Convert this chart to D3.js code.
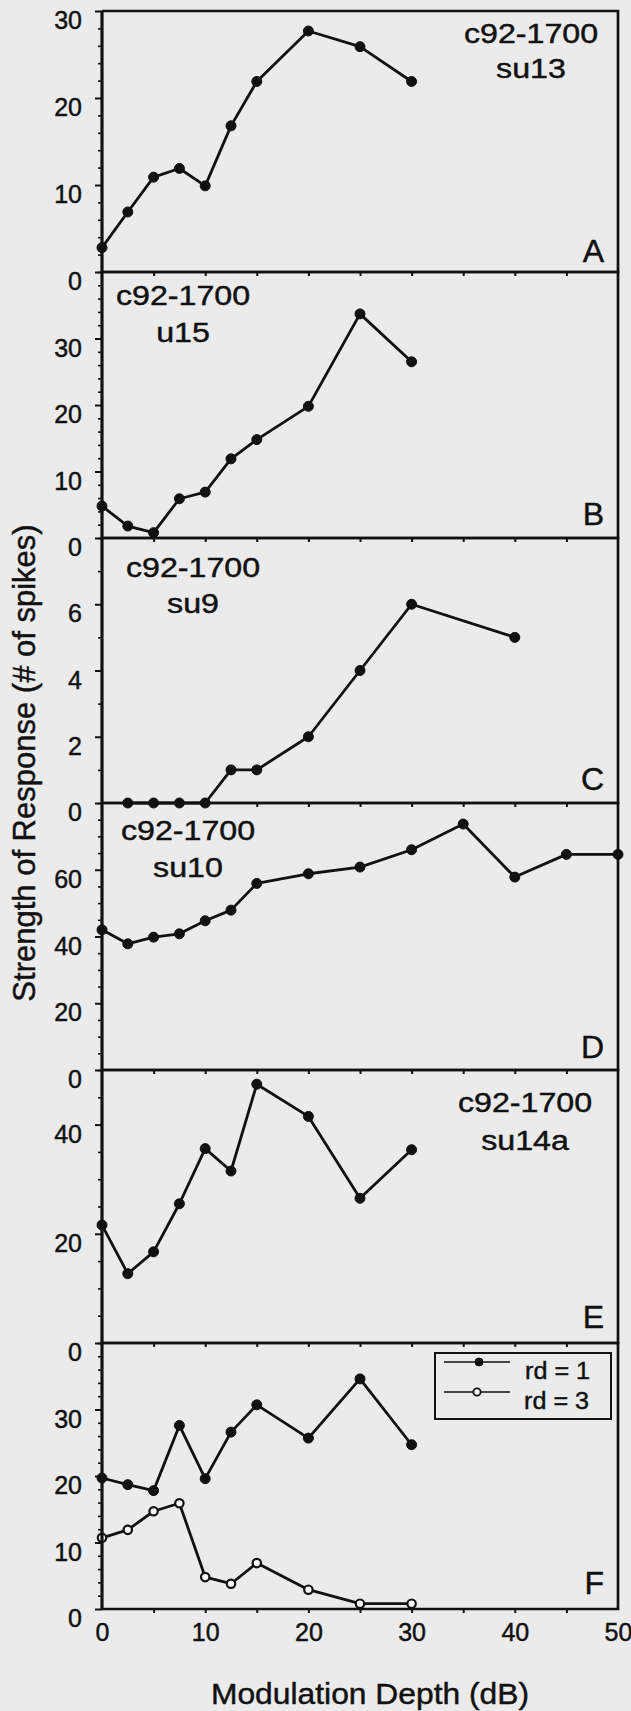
<!DOCTYPE html>
<html><head><meta charset="utf-8">
<script src="https://cdn.jsdelivr.net/npm/d3@7/dist/d3.min.js"></script>
<style>html,body{margin:0;padding:0;background:#ebebeb;} svg{display:block;} text{stroke:#111;stroke-width:0.45px;}</style>
</head><body>
<svg id="chart" width="631" height="1711"></svg>
<script>
// ---------- data ----------
const depths  = [0, 2.5, 5, 7.5, 10, 12.5, 15, 20, 25, 30];
const depthsC = [2.5, 5, 7.5, 10, 12.5, 15, 20, 25, 30, 40];
const depthsD = [0, 2.5, 5, 7.5, 10, 12.5, 15, 20, 25, 30, 35, 40, 45, 50];

const spikesA = [2.8, 6.9, 10.9, 11.9, 9.9, 16.8, 21.9, 27.7, 25.9, 21.9];
const spikesB = [4.8, 1.8, 0.8, 5.9, 6.9, 11.9, 14.8, 19.8, 33.7, 26.5];
const spikesC = [0, 0, 0, 0, 1, 1, 2, 4, 6, 5];
const spikesD = [42, 37.8, 39.8, 40.8, 44.7, 47.9, 55.9, 58.8, 60.8, 66, 73.7, 57.8, 64.6, 64.6];
const spikesE = [21.6, 12.7, 16.7, 25.5, 35.6, 31.5, 47.4, 41.5, 26.5, 35.4];
const spikesFrd1 = [19.7, 18.7, 17.8, 27.6, 19.6, 26.6, 30.7, 25.7, 34.6, 24.7];
const spikesFrd3 = [10.7, 11.9, 14.7, 15.9, 4.8, 3.8, 6.9, 2.9, 0.8, 0.8];

const panelLetters = ["A", "B", "C", "D", "E", "F"];
const cellName = "c92-1700";
const unitNames = ["su13", "u15", "su9", "su10", "su14a", null];
const yMaxima = [30, 40, 8, 80, 50, 40];
const yTicksA = [0, 10, 20, 30];
const yTicksB = [0, 10, 20, 30];
const yTicksC = [0, 2, 4, 6];
const yTicksD = [0, 20, 40, 60];
const yTicksE = [0, 20, 40];
const yTicksF = [0, 10, 20, 30];
const minorSteps = [2, 2, 1, 5, 5, 2];
const xTicks = [0, 10, 20, 30, 40, 50];
const legendLabels = ["rd = 1", "rd = 3"];
const xTitle = "Modulation Depth (dB)";
const yTitle = "Strength of Response (# of spikes)";

// ---------- layout ----------
const W = 631, H = 1711;
const left = 102, right = 618;
const bounds = [11, 272, 538, 803, 1070, 1343, 1609];
const ink = "#111";
const font = "'Liberation Sans', Arial, Helvetica, sans-serif";

const svg = d3.select("#chart");
svg.append("rect").attr("width", W).attr("height", H).attr("fill", "#ebebeb");

const x = d3.scaleLinear().domain([0, 50]).range([left, right]);

const panels = [
  {ticks: yTicksA, series: [{xs: depths, ys: spikesA, open: false}], labelX: 531, labelY: [32, 67], letterDy: -10},
  {ticks: yTicksB, series: [{xs: depths, ys: spikesB, open: false}], labelX: 183, labelY: [33, 70], letterDy: -13},
  {ticks: yTicksC, series: [{xs: depthsC, ys: spikesC, open: false}], labelX: 193, labelY: [39, 75], letterDy: -13},
  {ticks: yTicksD, series: [{xs: depthsD, ys: spikesD, open: false}], labelX: 188, labelY: [37, 74], letterDy: -12},
  {ticks: yTicksE, series: [{xs: depths, ys: spikesE, open: false}], labelX: 525, labelY: [42, 80], letterDy: -15},
  {ticks: yTicksF, series: [{xs: depths, ys: spikesFrd1, open: false}, {xs: depths, ys: spikesFrd3, open: true}], labelX: null, labelY: null, letterDy: -15}
];

panels.forEach((p, i) => {
  const top = bounds[i], bottom = bounds[i + 1];
  const y = d3.scaleLinear().domain([0, yMaxima[i]]).range([bottom, top]);
  const g = svg.append("g");

  // minor y ticks
  const minor = d3.range(0, yMaxima[i] + 1e-9, minorSteps[i]).filter(v => !p.ticks.includes(v));
  g.append("g").attr("transform", `translate(${left},0)`)
    .call(d3.axisLeft(y).tickValues(minor).tickSize(4).tickFormat(""))
    .call(a => a.select(".domain").remove())
    .call(a => a.selectAll("line").attr("stroke", ink).attr("stroke-width", 1.6));

  // major y ticks + labels
  g.append("g").attr("transform", `translate(${left},0)`)
    .call(d3.axisLeft(y).tickValues(p.ticks).tickSize(7).tickPadding(13).tickFormat(d3.format("d")))
    .call(a => a.select(".domain").remove())
    .call(a => a.selectAll("line").attr("stroke", ink).attr("stroke-width", 2))
    .call(a => a.selectAll("text").attr("fill", ink).attr("font-family", font)
      .attr("font-size", 25).attr("dy", "0.7em"));

  // x ticks on bottom of each panel
  const isLast = i === panels.length - 1;
  g.append("g").attr("transform", `translate(0,${bottom})`)
    .call(d3.axisBottom(x).tickValues(d3.range(5, 50, 5)).tickSize(4).tickFormat(""))
    .call(a => a.select(".domain").remove())
    .call(a => a.selectAll("line").attr("stroke", ink).attr("stroke-width", 2));
  if (isLast) {
    g.append("g").attr("transform", `translate(0,${bottom})`)
      .call(d3.axisBottom(x).tickValues(xTicks).tickSize(0).tickPadding(14).tickFormat(d3.format("d")))
      .call(a => a.select(".domain").remove())
      .call(a => a.selectAll("text").attr("fill", ink).attr("font-family", font).attr("font-size", 25));
  }

  // frame
  g.append("path")
    .attr("d", `M${left},${top}H${right}V${bottom}H${left}`)
    .attr("fill", "none").attr("stroke", ink).attr("stroke-width", 2.7);

  // series
  const line = d3.line().x(d => x(d[0])).y(d => y(d[1]));
  p.series.forEach(s => {
    const pts = s.xs.map((v, k) => [v, s.ys[k]]);
    g.append("path").datum(pts).attr("d", line)
      .attr("fill", "none").attr("stroke", ink).attr("stroke-width", 2.8).attr("stroke-linejoin", "round");
    g.selectAll(null).data(pts).enter().append("circle")
      .attr("cx", d => x(d[0])).attr("cy", d => y(d[1]))
      .attr("r", s.open ? 4.2 : 5)
      .attr("fill", s.open ? "#fafafa" : ink)
      .attr("stroke", ink).attr("stroke-width", s.open ? 2.2 : 1);
  });

  // unit labels
  if (unitNames[i]) {
    [cellName, unitNames[i]].forEach((t, k) => {
      g.append("text")
        .attr("transform", `translate(${p.labelX},${top + p.labelY[k]}) scale(1.15,1)`)
        .attr("text-anchor", "middle").attr("font-family", font).attr("font-size", 28)
        .attr("fill", ink).text(t);
    });
  }

  // panel letter
  g.append("text").attr("x", 604).attr("y", bottom + p.letterDy)
    .attr("text-anchor", "end").attr("font-family", font).attr("font-size", 32)
    .attr("fill", ink).text(panelLetters[i]);

  // legend in last panel
  if (isLast) {
    const lg = g.append("g");
    lg.append("rect").attr("x", 435).attr("y", top + 10).attr("width", 176).attr("height", 66)
      .attr("fill", "none").attr("stroke", ink).attr("stroke-width", 2);
    legendLabels.forEach((t, k) => {
      const ly = top + 19 + k * 30;
      lg.append("line").attr("x1", 444).attr("x2", 510).attr("y1", ly).attr("y2", ly)
        .attr("stroke", ink).attr("stroke-width", 1.7);
      lg.append("circle").attr("cx", 479 - k * 2).attr("cy", ly).attr("r", k ? 3.6 : 4)
        .attr("fill", k ? "#fafafa" : ink).attr("stroke", ink).attr("stroke-width", k ? 1.8 : 1);
      lg.append("text").attr("transform", `translate(${525 - k},${ly + 17}) scale(1.05,1)`)
        .attr("font-family", font).attr("font-size", 24).attr("fill", ink).text(t);
    });
  }
});

// left axis line
svg.append("line").attr("x1", left).attr("x2", left).attr("y1", bounds[0]).attr("y2", bounds[6])
  .attr("stroke", ink).attr("stroke-width", 3.2);

// axis titles
svg.append("text").attr("transform", `translate(370,1704) scale(1.06,1)`)
  .attr("text-anchor", "middle").attr("font-family", font).attr("font-size", 30)
  .attr("fill", ink).text(xTitle);
svg.append("text").attr("transform", `translate(35,763) rotate(-90)`)
  .attr("text-anchor", "middle").attr("font-family", font).attr("font-size", 31)
  .attr("fill", ink).text(yTitle);
</script>
</body></html>
